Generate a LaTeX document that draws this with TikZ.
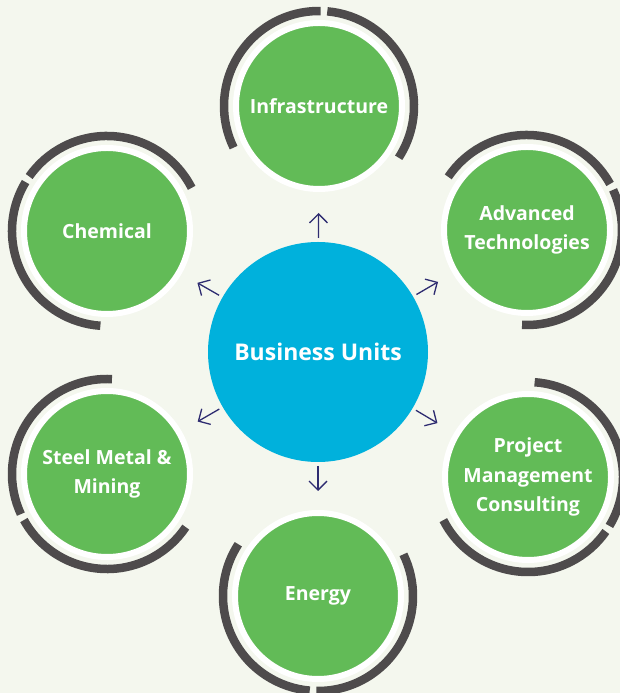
\documentclass[tikz,border=0pt]{standalone}
\usepackage{fontspec}
\setmainfont{Open Sans}
\usetikzlibrary{arrows.meta,calc}
\definecolor{bg}{HTML}{F4F7EE}
\definecolor{satgreen}{HTML}{62BB57}
\definecolor{hubblue}{HTML}{00B1DC}
\definecolor{ringgray}{HTML}{4E4B4C}
\definecolor{arrnavy}{HTML}{2E2C71}
\begin{document}
\begin{tikzpicture}[x=1pt,y=1pt,
  sat/.style={circle, fill=satgreen, draw=white, line width=6pt, minimum size=166pt,
    inner sep=0pt, outer sep=0pt, text=white, align=center,
    font=\bfseries\fontsize{19.5}{29.5}\selectfont},
  hubnode/.style={circle, fill=hubblue, minimum size=220pt, inner sep=0pt, outer sep=0pt,
    text=white, font=\bfseries\fontsize{23}{28}\selectfont},
  ring/.style={draw=ringgray, line width=8.5pt},
  arr/.style={draw=arrnavy, line width=1.3pt, -{Straight Barb[length=9pt,width=18pt]}}]
\fill[bg] (0,0) rectangle (620,693);
\useasboundingbox (0,0) rectangle (620,693);
\node[hubnode] (hub) at (318,341) {Business Units};
\node[sat] (inf) at (319,587) {Infrastructure};
\node[sat] (adv) at (527,463) {Advanced\\Technologies};
\node[sat] (che) at (107,462) {Chemical};
\node[sat] (pmc) at (528,216) {Project\\Management\\Consulting};
\node[sat] (stl) at (107,219) {Steel Metal \&\\Mining};
\node[sat] (ene) at (318,97) {Energy};
\foreach \n/\a in {inf/270, adv/210, pmc/150, ene/90, stl/30, che/330} {
  \pgfmathsetmacro{\sa}{\a+57}
  \pgfmathsetmacro{\ea}{\a+175}
  \pgfmathsetmacro{\sb}{\a+179}
  \pgfmathsetmacro{\eb}{\a+296}
  \draw[ring] (\n.center) ++(\sa:95) arc[start angle=\sa, end angle=\ea, radius=95];
  \draw[ring] (\n.center) ++(\sb:95) arc[start angle=\sb, end angle=\eb, radius=95];
}
\foreach \n in {inf, adv, pmc, ene, stl, che} {
  \draw[arr] ($(hub)!114pt!(\n)$) -- ($(hub)!139pt!(\n)$);
}
\end{tikzpicture}
\end{document}
